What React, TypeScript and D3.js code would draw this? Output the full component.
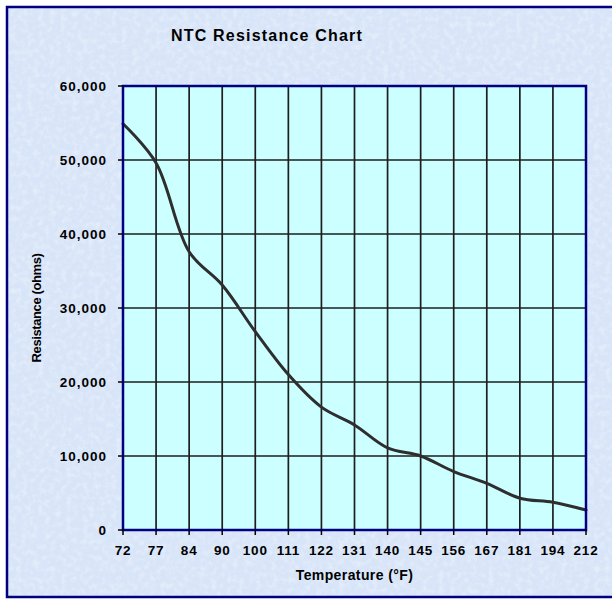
import React from "react";
import * as d3 from "d3";

const temperatures = ["72", "77", "84", "90", "100", "111", "122", "131", "140", "145", "156", "167", "181", "194", "212"];
const resistance = [54900, 49600, 37600, 33100, 26800, 21000, 16600, 14200, 11100, 10000, 7900, 6300, 4300, 3750, 2700];
const yTicks = [0, 10000, 20000, 30000, 40000, 50000, 60000];
const title = "NTC Resistance Chart";
const xTitle = "Temperature (°F)";
const yTitle = "Resistance (ohms)";

const W = 612;
const H = 600;
const m = { left: 123, right: 586, top: 86, bottom: 530 };

export default function App() {
  const x = d3.scalePoint<string>().domain(temperatures).range([m.left, m.right]);
  const y = d3.scaleLinear().domain([0, 60000]).range([m.bottom, m.top]);
  const line = d3
    .line<number>()
    .x((_, i) => x(temperatures[i]) as number)
    .y((d) => y(d))
    .curve(d3.curveCatmullRom.alpha(0.5));
  const fmt = d3.format(",");
  const font = "Arial, 'Liberation Sans', sans-serif";

  return (
    <svg
      width={W}
      height={H}
      viewBox={`0 0 ${W} ${H}`}
      style={{ position: "absolute", left: 0, top: 0, display: "block" }}
    >
      <defs>
        <filter id="tex" x="0" y="0" width="100%" height="100%">
          <feTurbulence type="fractalNoise" baseFrequency="0.18" numOctaves="3" seed="4" result="n" />
          <feColorMatrix
            in="n"
            type="matrix"
            values="0 0 0 0 1  0 0 0 0 1  0 0 0 0 1  0 0 0 1.4 -0.6"
          />
        </filter>
      </defs>
      <rect x={0} y={0} width={W} height={H} fill="#ffffff" />
      <rect x={7} y={7} width={W} height={590} fill="#d8e5f8" />
      <rect x={7} y={7} width={W} height={590} filter="url(#tex)" opacity={0.55} />
      <rect x={7} y={7} width={W + 10} height={590} fill="none" stroke="#000080" strokeWidth={2.5} />

      <text
        x={267}
        y={41}
        textAnchor="middle"
        fontFamily={font}
        fontWeight="bold"
        fontSize={16}
        letterSpacing={1.2}
        fill="#000"
      >
        {title}
      </text>

      {/* plot area */}
      <rect
        x={m.left}
        y={m.top}
        width={m.right - m.left}
        height={m.bottom - m.top}
        fill="#ccffff"
      />

      {/* horizontal gridlines */}
      {yTicks.slice(1, -1).map((t) => (
        <line
          key={"h" + t}
          x1={m.left}
          x2={m.right}
          y1={y(t)}
          y2={y(t)}
          stroke="#1e1e1e"
          strokeWidth={1.7}
        />
      ))}
      {/* vertical gridlines */}
      {temperatures.slice(1, -1).map((t) => (
        <line
          key={"v" + t}
          x1={x(t)}
          x2={x(t)}
          y1={m.top}
          y2={m.bottom}
          stroke="#1e1e1e"
          strokeWidth={1.7}
        />
      ))}

      {/* data line */}
      <path
        d={line(resistance) || ""}
        fill="none"
        stroke="#2e2e2e"
        strokeWidth={3}
        strokeLinejoin="round"
        strokeLinecap="round"
      />

      {/* plot border */}
      <rect
        x={m.left}
        y={m.top}
        width={m.right - m.left}
        height={m.bottom - m.top}
        fill="none"
        stroke="#000080"
        strokeWidth={2.5}
      />

      {/* y ticks */}
      {yTicks.map((t) => (
        <g key={"yt" + t}>
          <line x1={m.left - 5} x2={m.left} y1={y(t)} y2={y(t)} stroke="#000" strokeWidth={1.5} />
          <text
            x={107}
            y={y(t) + 5}
            textAnchor="end"
            fontFamily={font}
            fontWeight="bold"
            fontSize={13.5}
            letterSpacing={1}
            fill="#000"
          >
            {fmt(t)}
          </text>
        </g>
      ))}

      {/* x ticks */}
      {temperatures.map((t) => (
        <g key={"xt" + t}>
          <line
            x1={x(t)}
            x2={x(t)}
            y1={m.bottom}
            y2={m.bottom + 5}
            stroke="#000"
            strokeWidth={1.5}
          />
          <text
            x={x(t)}
            y={555}
            textAnchor="middle"
            fontFamily={font}
            fontWeight="bold"
            fontSize={13.5}
            letterSpacing={0.8}
            fill="#000"
          >
            {t}
          </text>
        </g>
      ))}

      <text
        x={(m.left + m.right) / 2}
        y={580}
        textAnchor="middle"
        fontFamily={font}
        fontWeight="bold"
        fontSize={14}
        letterSpacing={0.4}
        fill="#000"
      >
        {xTitle}
      </text>

      <text
        transform={`translate(41, ${(m.top + m.bottom) / 2}) rotate(-90)`}
        textAnchor="middle"
        fontFamily={font}
        fontWeight="bold"
        fontSize={13}
        letterSpacing={-0.4}
        fill="#000"
      >
        {yTitle}
      </text>
    </svg>
  );
}
